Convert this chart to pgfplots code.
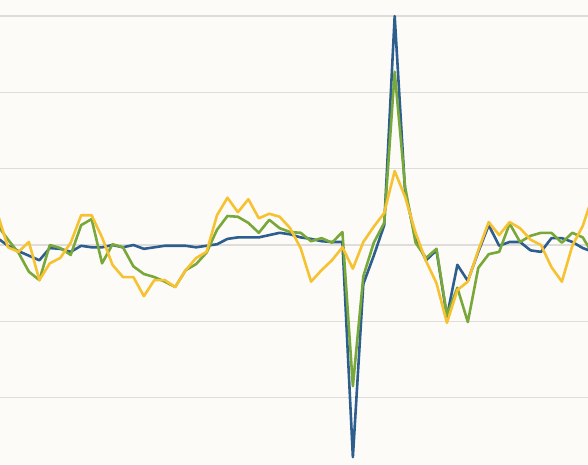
\documentclass[border=0pt]{standalone}
\usepackage{pgfplots}
\pgfplotsset{compat=1.18}
\usepackage{pgfplotstable}

\definecolor{bgcol}{HTML}{FCFBF7}
\definecolor{gridcol}{HTML}{DEDDDA}
\definecolor{serblue}{HTML}{2D5E8E}
\definecolor{sergreen}{HTML}{79A83A}
\definecolor{seryellow}{HTML}{F7C232}

% columns: period, blue, green, yellow
\pgfplotstableread{
i    b      g      y
-1   0.09   0.26   0.41
0   -0.01   0.07  -0.03
1   -0.08  -0.10  -0.09
2   -0.14  -0.35   0.04
3   -0.20  -0.46  -0.46
4   -0.04   0.00  -0.24
5   -0.05  -0.04  -0.17
6   -0.09  -0.13   0.03
7   -0.01   0.26   0.39
8   -0.03   0.34   0.39
9   -0.03  -0.24   0.10
10   0.00   0.01  -0.26
11  -0.03  -0.03  -0.42
12   0.00  -0.28  -0.42
13  -0.05  -0.38  -0.67
14  -0.03  -0.42  -0.46
15  -0.01  -0.48  -0.46
16  -0.01  -0.55  -0.55
17  -0.01  -0.33  -0.33
18  -0.03  -0.25  -0.17
19  -0.01  -0.10  -0.09
20   0.01   0.20   0.39
21   0.08   0.38   0.62
22   0.10   0.37   0.43
23   0.10   0.29   0.60
24   0.10   0.16   0.35
25   0.13   0.33   0.41
26   0.16   0.22   0.37
27   0.14   0.17   0.22
28   0.10   0.16  -0.04
29   0.08   0.05  -0.48
30   0.05   0.09  -0.33
31   0.04   0.03  -0.20
32   0.04   0.17  -0.03
33  -2.78  -1.85  -0.31
34  -0.51  -0.41   0.04
35  -0.14   0.03   0.24
36   0.26   0.29   0.42
37   3.00   2.27   0.97
38   0.69   0.76   0.63
39   0.09   0.03   0.16
40  -0.20  -0.17  -0.21
41  -0.07  -0.05  -0.50
42  -0.94  -0.92  -1.02
43  -0.26  -0.56  -0.59
44  -0.47  -1.01  -0.48
45  -0.09  -0.30  -0.07
46   0.26  -0.12   0.30
47  -0.01  -0.09   0.13
48   0.04   0.28   0.30
49   0.04   0.04   0.22
50  -0.07   0.12   0.07
51  -0.09   0.16   0.00
52   0.09   0.16  -0.29
53   0.09   0.03  -0.48
54   0.04   0.16  -0.01
55  -0.04   0.10   0.25
56  -0.09  -0.13   0.66
}\series

\begin{document}
\begin{tikzpicture}
\fill[bgcol] (0,0) rectangle (588pt,464pt);
\useasboundingbox (0,0) rectangle (588pt,464pt);
\begin{axis}[
  at={(0,0)}, anchor=south west,
  width=588pt, height=464pt,
  scale only axis,
  xmin=-0.766, xmax=55.5,
  ymin=-2.870, ymax=3.211,
  axis line style={draw=none},
  xtick=\empty,
  ytick={-2,-1,0,1,2,3},
  yticklabels={},
  major tick length=0pt,
  ymajorgrids,
  grid style={gridcol, line width=1.2pt},
  every axis plot/.append style={line width=2.6pt, line join=round, mark=none},
  clip=true,
]
\addplot[serblue] table[x=i, y=b] {\series};
\addplot[sergreen] table[x=i, y=g] {\series};
\addplot[seryellow] table[x=i, y=y] {\series};
\end{axis}
\end{tikzpicture}
\end{document}
